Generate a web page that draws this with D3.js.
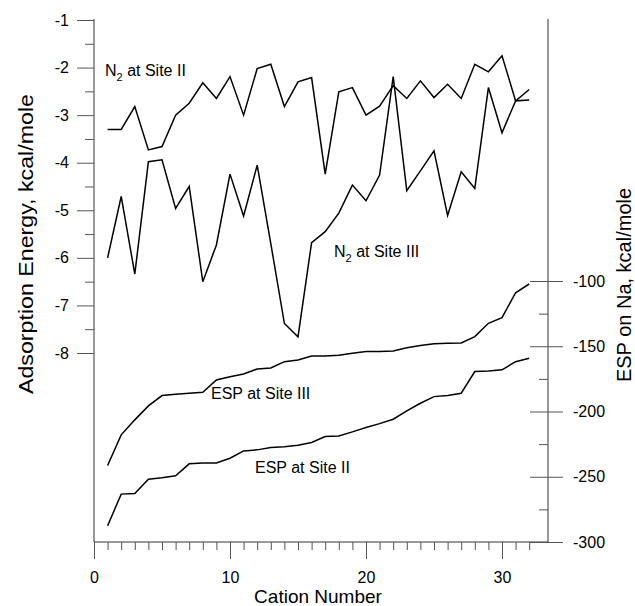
<!DOCTYPE html>
<html>
<head>
<meta charset="utf-8">
<script src="https://cdn.jsdelivr.net/npm/d3@7"></script>
<style>
  body { margin: 0; background: #fff; }
  svg { display: block; font-family: Arial, "Liberation Sans", sans-serif; }
  .line-path { fill: none; stroke: #000; stroke-width: 1.5; stroke-linejoin: miter; }
  .axis-line { stroke: #333; stroke-width: 1; }
  .tick line { stroke: #555; }
  .tick text { font-size: 16px; fill: #000; }
  .label { font-size: 16px; fill: #000; }
  .title { font-size: 19px; fill: #000; }
</style>
</head>
<body>
<svg width="635" height="606"></svg>
<script>
// cation numbers 1..32
var cations = [1, 2, 3, 4, 5, 6, 7, 8, 9, 10, 11, 12, 13, 14, 15, 16,
  17, 18, 19, 20, 21, 22, 23, 24, 25, 26, 27, 28, 29, 30, 31, 32];

// adsorption energy, kcal/mole (left axis)
var n2SiteII = [-3.30, -3.30, -2.82, -3.73, -3.66, -3.00, -2.75, -2.32, -2.65, -2.19,
  -3.00, -2.02, -1.93, -2.82, -2.30, -2.21, -4.24, -2.51, -2.42, -3.00,
  -2.81, -2.38, -2.65, -2.28, -2.63, -2.35, -2.65, -1.93, -2.09, -1.75,
  -2.70, -2.68];
var n2SiteIII = [-6.00, -4.71, -6.34, -3.98, -3.94, -4.96, -4.50, -6.50, -5.73, -4.24,
  -5.12, -4.05, -5.70, -7.38, -7.66, -5.68, -5.45, -5.06, -4.47, -4.80,
  -4.26, -2.19, -4.59, -4.17, -3.75, -5.11, -4.19, -4.54, -2.42, -3.37,
  -2.70, -2.46];

// ESP on Na, kcal/mole (right axis)
var espSiteIII = [-241.4, -217.9, -206.4, -195.7, -187.8, -186.8, -186.0, -185.2, -175.8, -173.3,
  -171.2, -167.4, -166.6, -161.8, -160.5, -157.4, -157.4, -156.9, -155.4, -154.1,
  -154.1, -153.6, -151.1, -149.5, -148.0, -147.7, -147.5, -142.6, -132.4, -128.1,
  -109.0, -102.3];
var espSiteII = [-287.6, -263.3, -262.9, -251.9, -250.8, -249.3, -240.1, -239.4, -239.4, -235.8,
  -230.2, -229.4, -227.6, -227.1, -225.8, -223.8, -219.2, -218.7, -215.6, -212.3,
  -209.3, -205.9, -199.5, -193.7, -188.6, -187.8, -186.0, -169.4, -168.9, -168.1,
  -161.8, -159.2];

var xTicks = [0, 10, 20, 30];
var leftTicks = [-1, -2, -3, -4, -5, -6, -7, -8];
var leftMinor = [-1.5, -2.5, -3.5, -4.5, -5.5, -6.5, -7.5];
var rightTicks = [-100, -150, -200, -250, -300];
var rightMinor = [-125, -175, -225, -275];

var svg = d3.select("svg");

var axisX0 = 94, axisX1 = 548;   // left / right axis positions
var axisTop = 19, axisBottom = 542;

// plain hyphen minus like the original
var fmt = function (d) { return String(d); };

// scales
var xScale = d3.scaleLinear().domain([0, 32]).range([94, 529.2]);
var yLeft = d3.scaleLinear().domain([-1, -8]).range([20, 353]);
var yRight = d3.scaleLinear().domain([-100, -300]).range([281, 542]);

// axis lines
svg.append("line").attr("class", "axis-line")
  .attr("x1", axisX0).attr("x2", axisX0).attr("y1", axisTop).attr("y2", axisBottom);
svg.append("line").attr("class", "axis-line")
  .attr("x1", axisX1).attr("x2", axisX1).attr("y1", axisTop).attr("y2", axisBottom);
svg.append("line").attr("class", "axis-line")
  .attr("x1", axisX0).attr("x2", axisX1).attr("y1", axisBottom).attr("y2", axisBottom);

// bottom axis
var xMinor = cations.filter(function (d) { return d % 10 !== 0; });
svg.append("g")
  .attr("transform", "translate(0," + axisBottom + ")")
  .call(d3.axisBottom(xScale).tickValues(xMinor).tickSize(8).tickFormat(""))
  .select(".domain").remove();
var xAxisGroup = svg.append("g")
  .attr("transform", "translate(0," + axisBottom + ")")
  .call(d3.axisBottom(xScale).tickValues(xTicks).tickSize(17).tickPadding(13).tickFormat(fmt));
xAxisGroup.select(".domain").remove();

// left axis
svg.append("g")
  .attr("transform", "translate(" + axisX0 + ",0)")
  .call(d3.axisLeft(yLeft).tickValues(leftMinor).tickSize(9).tickFormat(""))
  .select(".domain").remove();
var yAxisGroup = svg.append("g")
  .attr("transform", "translate(" + axisX0 + ",0)")
  .call(d3.axisLeft(yLeft).tickValues(leftTicks).tickSize(17).tickPadding(8).tickFormat(fmt));
yAxisGroup.select(".domain").remove();

// right axis (major ticks cross the line, minor ticks inside)
svg.append("g")
  .attr("transform", "translate(" + axisX1 + ",0)")
  .call(d3.axisLeft(yRight).tickValues(rightMinor).tickSize(9).tickFormat(""))
  .select(".domain").remove();
var rAxisGroup = svg.append("g")
  .attr("transform", "translate(" + axisX1 + ",0)")
  .call(d3.axisRight(yRight).tickValues(rightTicks).tickSize(15).tickPadding(10).tickFormat(fmt));
rAxisGroup.select(".domain").remove();
rAxisGroup.selectAll(".tick line").attr("x1", -18);

// lines
var leftLine = function (vals) {
  return d3.line()
    .x(function (d, i) { return xScale(cations[i]); })
    .y(function (d) { return yLeft(d); })(vals);
};
var rightLine = function (vals) {
  return d3.line()
    .x(function (d, i) { return xScale(cations[i]); })
    .y(function (d) { return yRight(d); })(vals);
};
svg.append("path").attr("class", "line-path").attr("d", leftLine(n2SiteII));
svg.append("path").attr("class", "line-path").attr("d", leftLine(n2SiteIII));
svg.append("path").attr("class", "line-path").attr("d", rightLine(espSiteIII));
svg.append("path").attr("class", "line-path").attr("d", rightLine(espSiteII));

// series labels
var subLabel = function (x, y, rest) {
  var t = svg.append("text").attr("class", "label").attr("x", x).attr("y", y);
  t.append("tspan").text("N");
  t.append("tspan").attr("font-size", "11px").attr("dy", 5).text("2");
  t.append("tspan").attr("dy", -5).text(" " + rest);
};
subLabel(105, 76, "at Site II");
subLabel(334, 257, "at Site III");
svg.append("text").attr("class", "label").attr("x", 211).attr("y", 399).text("ESP at Site III");
svg.append("text").attr("class", "label").attr("x", 255).attr("y", 473).text("ESP at Site II");

// axis titles
svg.append("text").attr("class", "title")
  .attr("x", 318).attr("y", 603)
  .attr("text-anchor", "middle")
  .text("Cation Number");
svg.append("text").attr("class", "title")
  .attr("transform", "translate(33,244) rotate(-90)")
  .attr("text-anchor", "middle")
  .attr("textLength", 300)
  .attr("lengthAdjust", "spacingAndGlyphs")
  .style("font-size", "20px")
  .text("Adsorption Energy,  kcal/mole");
svg.append("text").attr("class", "title")
  .attr("transform", "translate(631,285) rotate(-90)")
  .attr("text-anchor", "middle")
  .style("font-size", "20px")
  .text("ESP on Na,  kcal/mole");
</script>
</body>
</html>
